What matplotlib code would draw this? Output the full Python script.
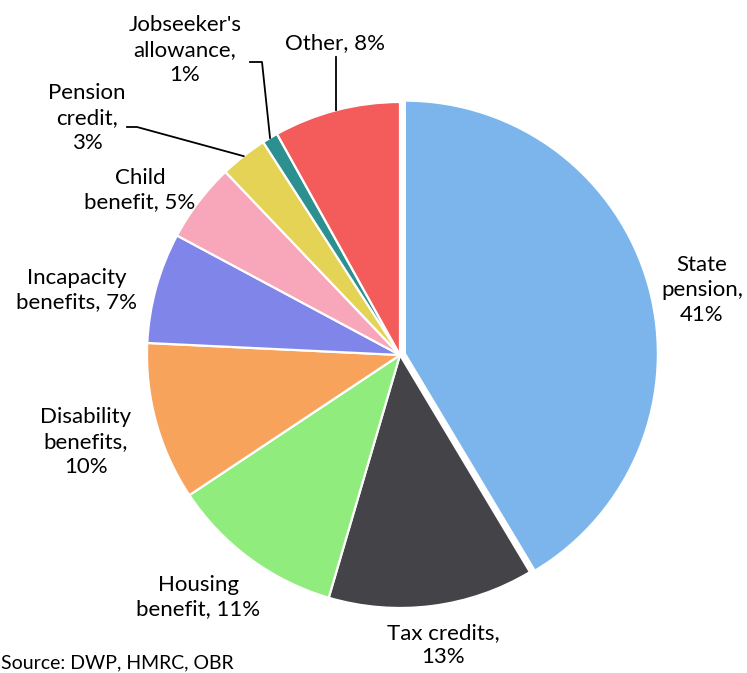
import numpy as np
import matplotlib
matplotlib.use("Agg")
import matplotlib.pyplot as plt

# welfare spending shares
labels = ["State pension", "Tax credits", "Housing benefit", "Disability benefits",
          "Incapacity benefits", "Child benefit", "Pension credit",
          "Jobseeker's allowance", "Other"]
shares = [41, 13, 11, 10, 7, 5, 3, 1, 8]
colors = ["#7cb5ec", "#434348", "#90ed7d", "#f7a35c", "#8085e9",
          "#f7a7b9", "#e4d354", "#2b908f", "#f45b5b"]
label_text = ["State\npension,\n41%", "Tax credits,\n13%", "Housing\nbenefit, 11%",
              "Disability\nbenefits,\n10%", "Incapacity\nbenefits, 7%",
              "Child\nbenefit, 5%", "Pension\ncredit,\n3%",
              "Jobseeker's\nallowance,\n1%", "Other, 8%"]

W, H = 747, 673
cx, cy, R = 400, 355, 253   # pie centre / radius in pixels

plt.rcParams['font.family'] = ['Lato', 'DejaVu Sans']
fig = plt.figure(figsize=(W / 100, H / 100), dpi=100)
ax = fig.add_axes([(cx - R) / W, (H - cy - R) / H, 2 * R / W, 2 * R / H])

explode = [0.02] + [0] * (len(shares) - 1)
wedges, _ = ax.pie(shares, colors=colors, startangle=90, counterclock=False,
                   explode=explode, radius=1,
                   wedgeprops=dict(edgecolor="white", linewidth=1.6))
ax.set_xlim(-1, 1)
ax.set_ylim(-1, 1)
ax.set_aspect("equal")
ax.axis("off")


def px(x, y):
    return (x - cx) / R, (cy - y) / R


# label centre positions (pixels)
label_pos = [(702, 290), (443, 645), (198, 597), (86, 442), (77, 290),
             (140, 190), (87, 118), (185, 50), (335, 43)]
for t, (x, y) in zip(label_text, label_pos):
    lx, ly = px(x, y)
    ax.text(lx, ly, t, ha="center", va="center", fontsize=16, color="#000000",
            linespacing=1.3, clip_on=False)


def edge_point(w, r=1.0):
    a = np.deg2rad((w.theta1 + w.theta2) / 2)
    return r * np.cos(a), r * np.sin(a)


# connectors for the small slices
ex, ey = edge_point(wedges[6])
x0, y0 = px(127, 127)
x1, y1 = px(137, 127)
ax.plot([x0, x1, ex], [y0, y1, ey], color="black", lw=1.3, clip_on=False)

ex, ey = edge_point(wedges[7])
x0, y0 = px(250, 62)
x1, y1 = px(262, 62)
ax.plot([x0, x1, ex], [y0, y1, ey], color="black", lw=1.3, clip_on=False)

ex, ey = edge_point(wedges[8])
x0, y0 = px(336, 57)
ax.plot([x0, x0], [y0, ey], color="black", lw=1.3, clip_on=False)

fig.text(0.002, 2 / H, "Source: DWP, HMRC, OBR", ha="left", va="bottom",
         fontsize=14, color="#000000")

fig.savefig("out.png", dpi=100)
